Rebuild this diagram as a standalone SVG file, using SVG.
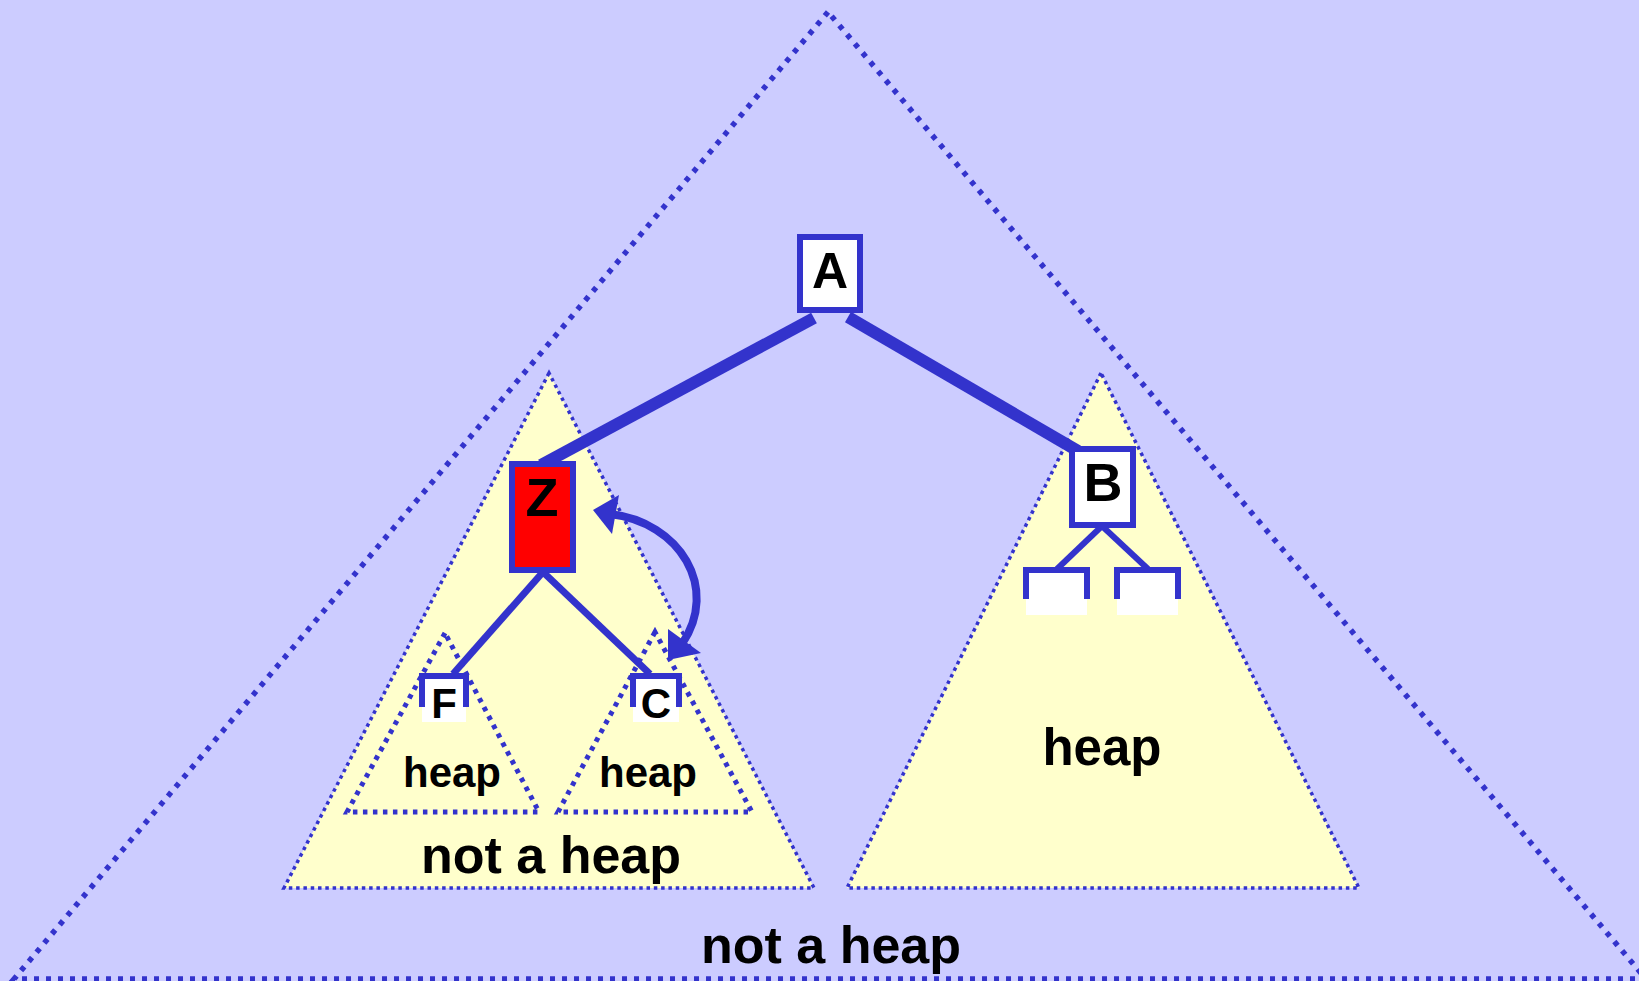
<svg xmlns="http://www.w3.org/2000/svg" width="1639" height="981" viewBox="0 0 1639 981">
<style>
.big{fill:none;stroke:#3333cc;stroke-width:5.5;stroke-dasharray:5 7}
.yel{fill:#ffffcc;stroke:#3333cc;stroke-width:3.5;stroke-dasharray:3.5 3.8}
.sub{fill:none;stroke:#3333cc;stroke-width:5;stroke-dasharray:4.5 5.5}
.edge{stroke:#3333cc;fill:none;stroke-linecap:butt}
.box{stroke:#3333cc;stroke-width:6}
.t{font-family:"Liberation Sans",Arial,sans-serif;font-weight:bold;fill:#000;text-anchor:middle}
</style>
<rect x="0" y="0" width="1639" height="981" fill="#ccccff"/>
<polygon class="big" points="828,12 14,979 1646,979"/>
<g id="left-subtree">
<polygon class="yel" points="549,373 284,888 814,888"/>
<polygon class="sub" points="445,633 347,812 539,812"/>
<polygon class="sub" points="655,632 558,812 752,812"/>
</g>
<g id="right-subtree">
<polygon class="yel" points="1101,373 847,888 1359,888"/>
</g>
<g id="connectors">
<line class="edge" x1="814" y1="318" x2="541" y2="465" stroke-width="12"/>
<line class="edge" x1="848" y1="317" x2="1078" y2="451" stroke-width="12"/>
<line class="edge" x1="543" y1="572" x2="453" y2="674" stroke-width="7"/>
<line class="edge" x1="543" y1="572" x2="650" y2="674" stroke-width="7"/>
<line class="edge" x1="1102" y1="526" x2="1057" y2="569" stroke-width="6"/>
<line class="edge" x1="1102" y1="526" x2="1148" y2="569" stroke-width="6"/>
<path class="edge" d="M610,514 C680,522 720,588 682,644" stroke-width="8"/>
<polygon fill="#3333cc" points="593,510 619,495 612,534"/>
<polygon fill="#3333cc" points="668,660 668,629 701,653"/>
</g>
<g id="node-A">
<rect class="box" x="800" y="237" width="60" height="73" fill="#ffffff"/>
<text class="t" x="830" y="288" font-size="50">A</text>
</g>
<g id="node-Z">
<rect class="box" x="512" y="464" width="61" height="106" fill="#ff0000"/>
<text class="t" x="542" y="516" font-size="54">Z</text>
</g>
<g id="node-B">
<rect class="box" x="1072" y="449" width="61" height="76" fill="#ffffff"/>
<text class="t" x="1103" y="501" font-size="54">B</text>
</g>
<g id="node-B-left">
<rect x="1026" y="570" width="61" height="45" fill="#ffffff"/>
<path d="M1026,599 V570 H1087 V599" fill="none" stroke="#3333cc" stroke-width="6"/>
</g>
<g id="node-B-right">
<rect x="1117" y="570" width="61" height="45" fill="#ffffff"/>
<path d="M1117,599 V570 H1178 V599" fill="none" stroke="#3333cc" stroke-width="6"/>
</g>
<g id="node-F">
<rect x="422" y="676" width="44" height="46" fill="#ffffff"/>
<path d="M422,707 V676 H466 V707" fill="none" stroke="#3333cc" stroke-width="6"/>
<text class="t" x="444" y="718" font-size="42">F</text>
</g>
<g id="node-C">
<rect x="633" y="676" width="46" height="46" fill="#ffffff"/>
<path d="M633,707 V676 H679 V707" fill="none" stroke="#3333cc" stroke-width="6"/>
<text class="t" x="656" y="718" font-size="42">C</text>
</g>
<g id="labels">
<text class="t" x="452" y="787" font-size="42">heap</text>
<text class="t" x="648" y="787" font-size="42">heap</text>
<text class="t" x="1102" y="765" font-size="51">heap</text>
<text class="t" x="551" y="873" font-size="52">not a heap</text>
<text class="t" x="831" y="963" font-size="52">not a heap</text>
</g>
</svg>
